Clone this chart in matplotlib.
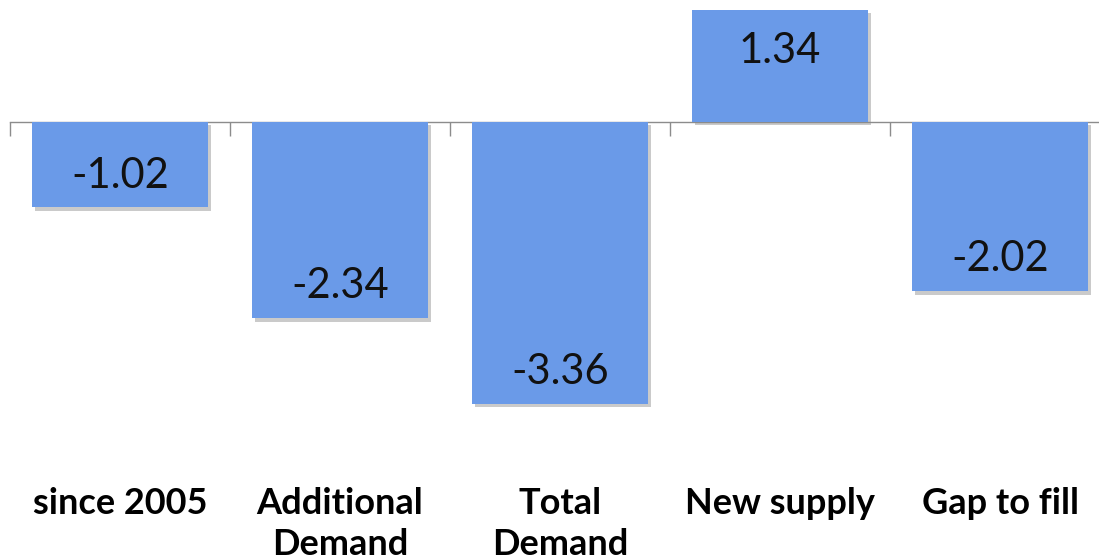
import matplotlib
matplotlib.use("Agg")
import matplotlib.pyplot as plt
import matplotlib.patheffects as pe
import numpy as np

categories = ["since 2005", "Additional\nDemand", "Total\nDemand", "New supply", "Gap to fill"]
values = [-1.02, -2.34, -3.36, 1.34, -2.02]
value_labels = ["-1.02", "-2.34", "-3.36", "1.34", "-2.02"]

W, H, DPI = 1099, 560, 100
fig = plt.figure(figsize=(W / DPI, H / DPI), dpi=DPI)

# axes geometry in pixels
x0_px, y_top_px, y_bot_px = 10, 0, 468
zero_px, px_per_unit = 122, 83.8
ax = fig.add_axes([x0_px / W, 1 - y_bot_px / H, (W - x0_px) / W, (y_bot_px - y_top_px) / H])
ax.set_ylim(-(y_bot_px - zero_px) / px_per_unit, (zero_px - y_top_px) / px_per_unit)
ax.set_xlim(-0.5, -0.5 + (W - x0_px) / 220)

x = np.arange(len(categories))
bar_color = "#6A9AE8"
bars = ax.bar(x, values, width=0.8, color=bar_color, zorder=3)
for b in bars:
    b.set_path_effects([
        pe.SimplePatchShadow(offset=(2.5, -2.5), shadow_rgbFace="#8a8a8a", alpha=0.45),
        pe.Normal(),
    ])

# value labels just inside the bar ends
for xi, v, lab in zip(x, values, value_labels):
    off = 23 if v < 0 else -30
    ax.annotate(lab, (xi, v), xytext=(0, off), textcoords="offset points",
                ha="center", va="center", fontsize=30, family="Lato",
                color="#111111", zorder=4)

for s in ax.spines.values():
    s.set_visible(False)
ax.set_yticks([])

# category labels along the bottom
ax.set_xticks(x)
ax.set_xticklabels(categories, fontsize=26, fontweight="bold", family="Lato",
                   linespacing=1.28)
ax.tick_params(axis="x", length=0, pad=14)

# zero line with boundary tick marks hanging below it
grey = "#8c8c8c"
zero_frac = (y_bot_px - zero_px) / (y_bot_px - y_top_px)
zx = ax.secondary_xaxis(zero_frac)
zx.set_xticks(np.arange(-0.5, len(categories), 1.0))
zx.set_xticklabels([])
zx.tick_params(axis="x", direction="in", length=10, width=1, color=grey)
for s in zx.spines.values():
    s.set_color(grey)
    s.set_linewidth(1)
zx.set_zorder(2)

fig.savefig("out.png", dpi=DPI)
